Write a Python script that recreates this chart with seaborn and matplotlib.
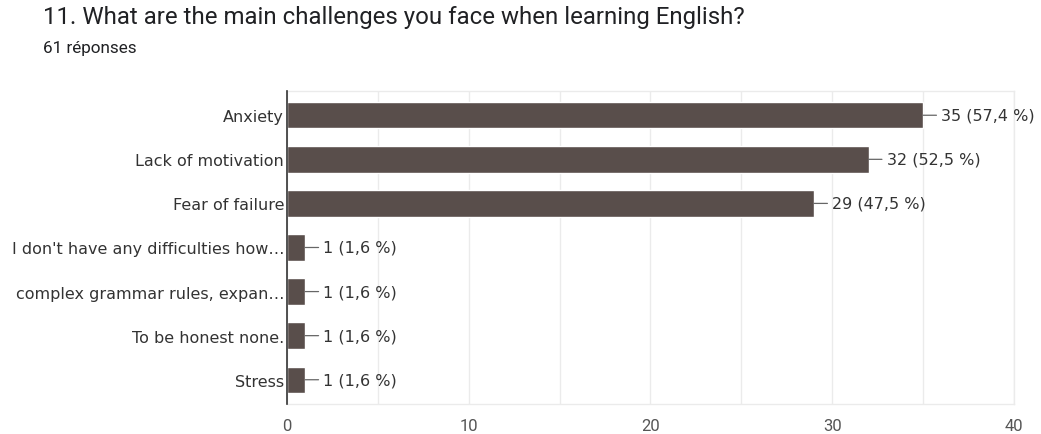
import matplotlib
matplotlib.use("Agg")
import matplotlib.pyplot as plt
import seaborn as sns
import pandas as pd

# Survey answers and their counts
categories = [
    "Anxiety",
    "Lack of motivation",
    "Fear of failure",
    "I don't have any difficulties how…",
    "complex grammar rules, expan…",
    "To be honest none.",
    "Stress",
]
counts = [35, 32, 29, 1, 1, 1, 1]
labels = ["35 (57,4 %)", "32 (52,5 %)", "29 (47,5 %)",
          "1 (1,6 %)", "1 (1,6 %)", "1 (1,6 %)", "1 (1,6 %)"]
x_ticks = [0, 10, 20, 30, 40]

df = pd.DataFrame({"answer": categories, "count": counts})

sns.set_theme(style="white")
plt.rcParams["font.family"] = ["DejaVu Sans"]

fig = plt.figure(figsize=(10.41, 4.35), dpi=100)
ax = fig.add_axes([0.2757, 0.069, 0.6983, 0.7195])

bar_color = "#594e4b"
sns.barplot(data=df, x="count", y="answer", orient="h", color=bar_color,
            saturation=1, width=0.6, ax=ax, zorder=3)

ax.set_xlim(0, 40)
ax.set_ylim(6.55, -0.55)
ax.set_xticks(x_ticks)
ax.set_xticks(range(0, 41, 5), minor=True)
ax.grid(axis="x", which="both", color="#ebebeb", linewidth=1, zorder=0)
ax.set_xlabel("")
ax.set_ylabel("")

for side in ["top", "right", "bottom"]:
    ax.spines[side].set_color("#ebebeb")
    ax.spines[side].set_linewidth(1)
ax.spines["left"].set_color("#333333")
ax.spines["left"].set_linewidth(1.2)
ax.spines["left"].set_zorder(4)

ax.tick_params(axis="x", which="both", length=0, pad=10, labelsize=12,
               labelcolor="#555555")
ax.tick_params(axis="y", length=0, pad=2, labelsize=11.5, labelcolor="#333333")
for t in ax.get_xticklabels():
    t.set_fontfamily(["Roboto", "DejaVu Sans"])

# Value labels joined to the bar ends by a short leader line
for i, (v, lab) in enumerate(zip(counts, labels)):
    ax.annotate(lab, xy=(v, i), xytext=(13, 0), textcoords="offset points",
                va="center", ha="left", fontsize=11.5, color="#333333",
                arrowprops=dict(arrowstyle="-", color="#666666", lw=0.9,
                                shrinkA=1, shrinkB=0),
                annotation_clip=False)

fig.text(0.041, 0.960, "11. What are the main challenges you face when learning English?",
         fontsize=17.3, color="#202124", family=["Roboto", "DejaVu Sans"],
         va="center", ha="left")
fig.text(0.041, 0.888, "61 réponses", fontsize=12.3, color="#202124",
         family=["Roboto", "DejaVu Sans"], va="center", ha="left")

fig.savefig("out.png", dpi=100)
